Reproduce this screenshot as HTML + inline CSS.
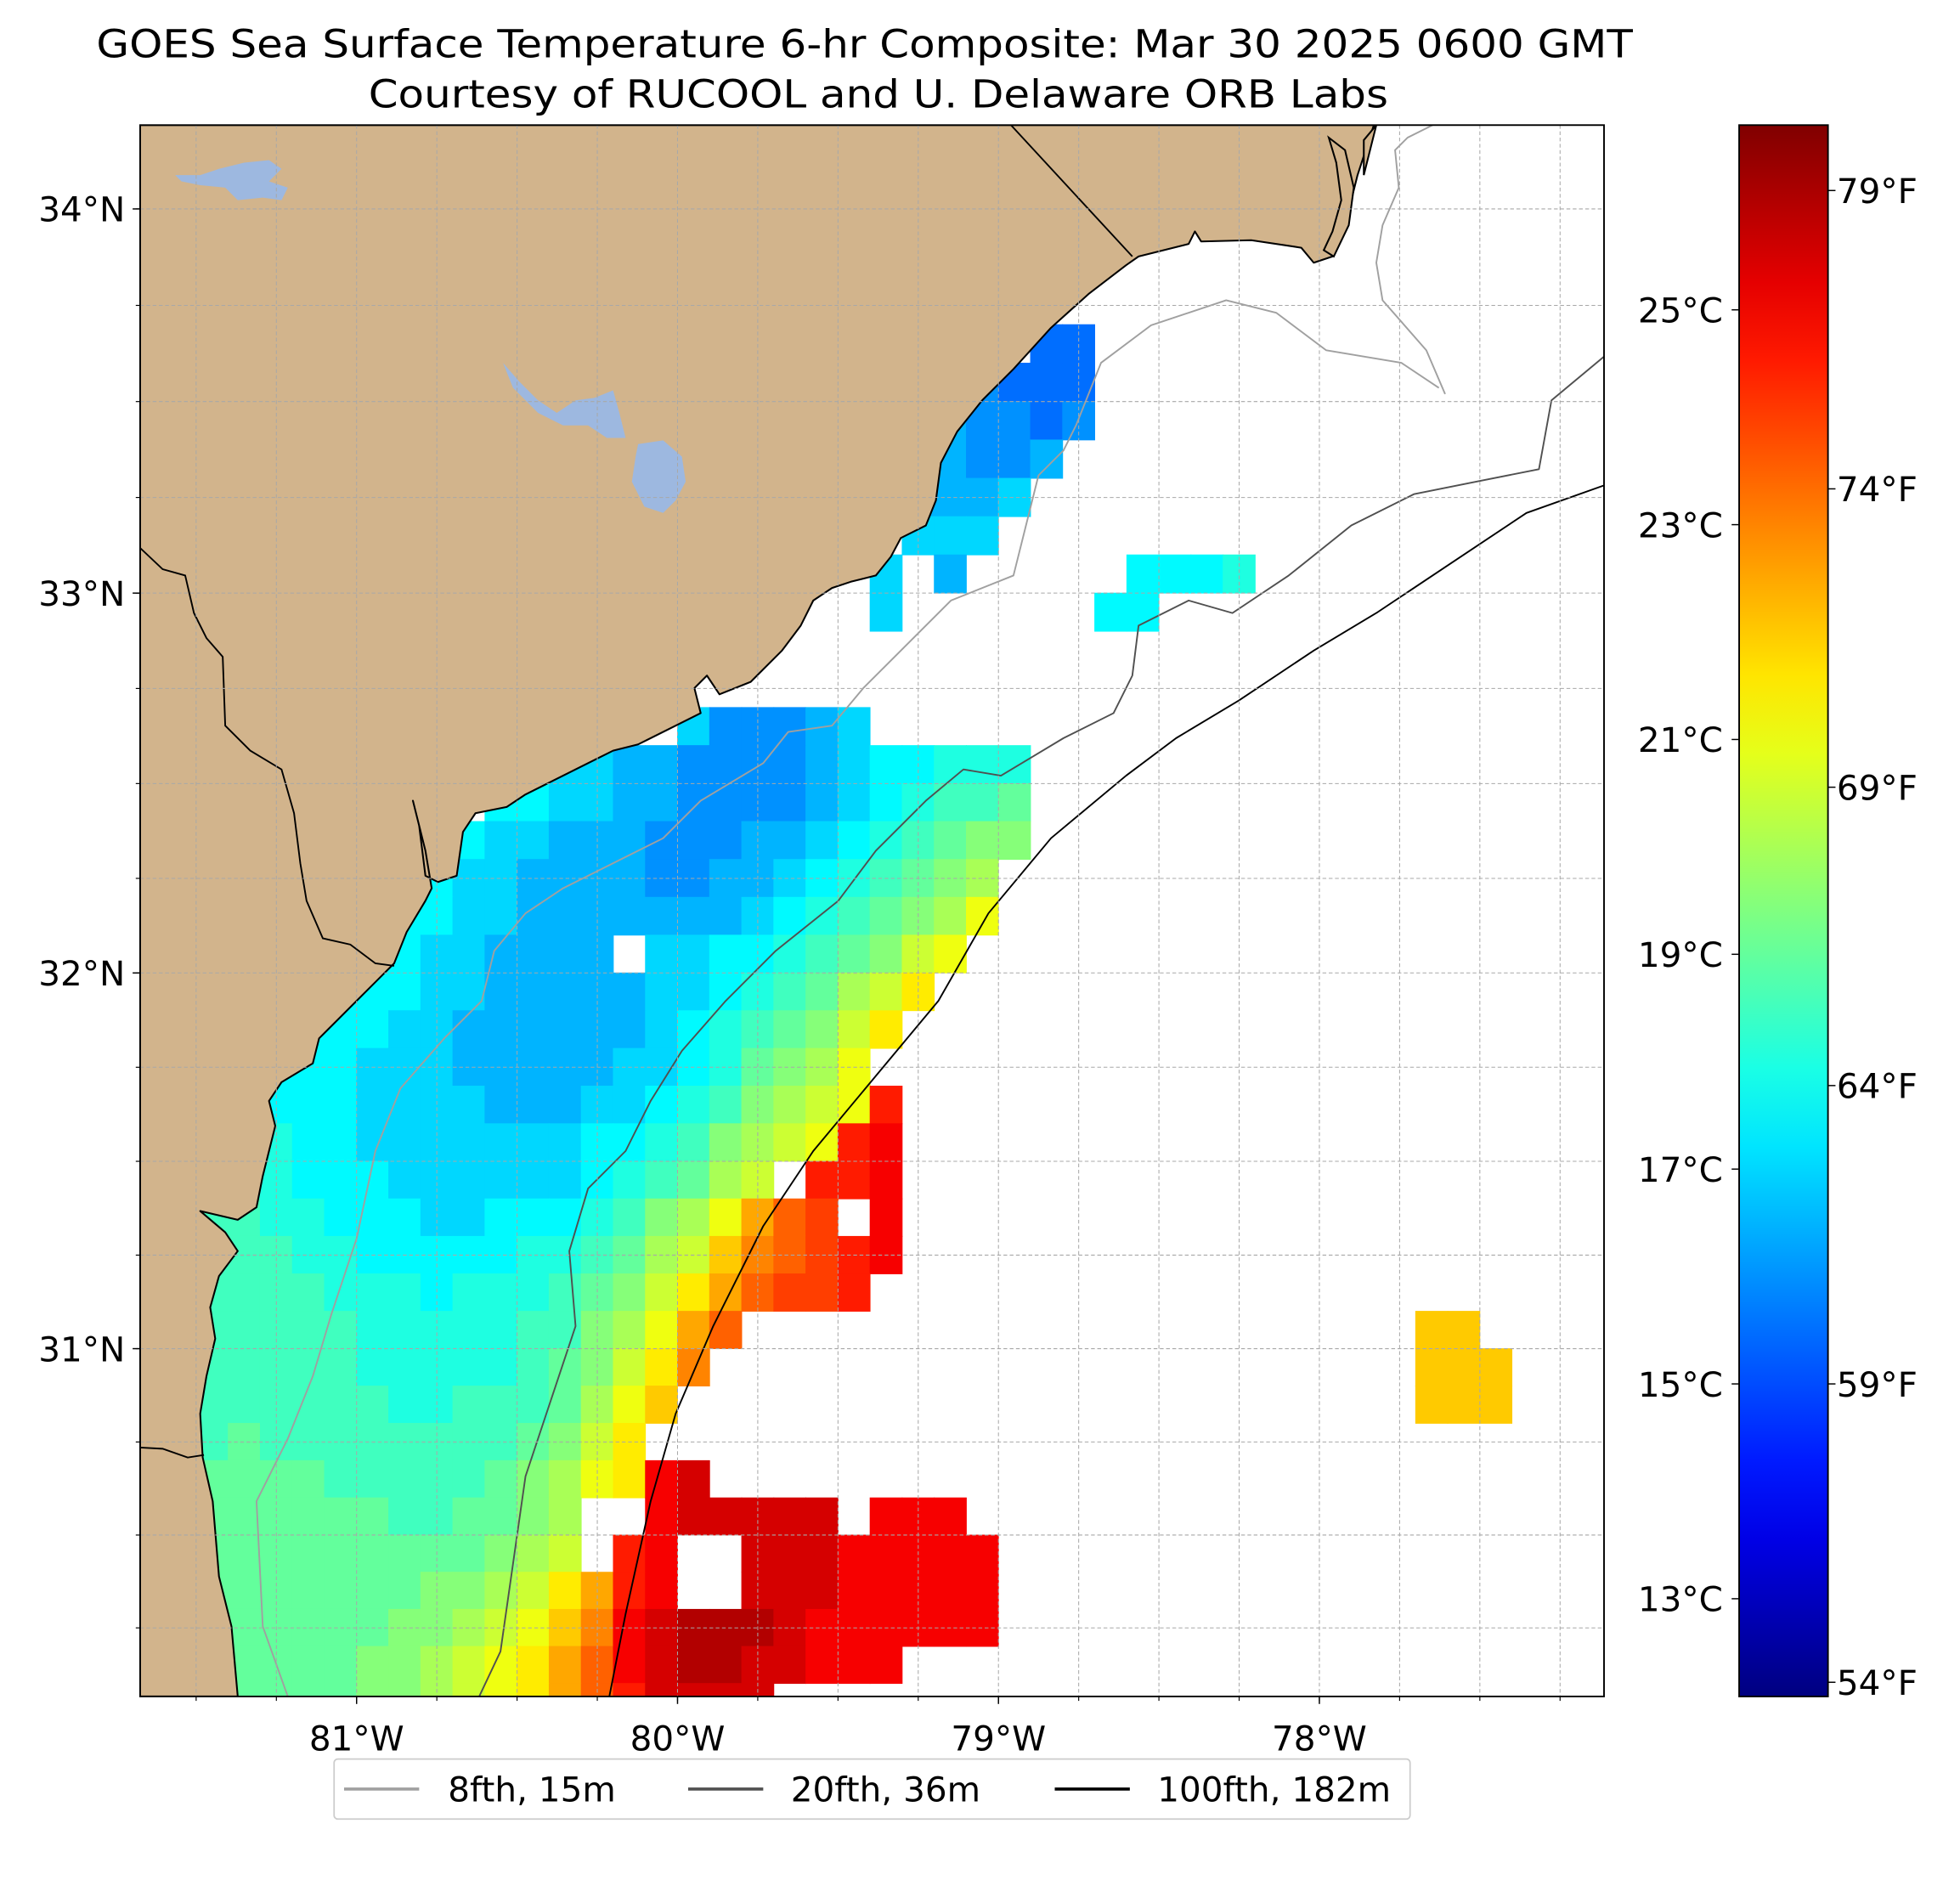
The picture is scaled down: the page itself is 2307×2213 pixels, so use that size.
<!DOCTYPE html>
<html><head><meta charset="utf-8"><style>
html,body{margin:0;padding:0;background:#fff}
svg{display:block}
text{font-family:"DejaVu Sans","Liberation Sans",sans-serif;fill:#000}
</style></head><body>
<svg id="fig" xmlns="http://www.w3.org/2000/svg" width="2307" height="2213" viewBox="0 0 1566.5 1502.7">
<defs>
<clipPath id="mapclip"><rect x="112" y="100" width="1170" height="1256"/></clipPath>
<linearGradient id="jetgrad" x1="0" y1="1" x2="0" y2="0"></linearGradient>
</defs>
<text x="691" y="46" text-anchor="middle" font-size="31" textLength="1228" lengthAdjust="spacingAndGlyphs">GOES Sea Surface Temperature 6-hr Composite: Mar 30 2025 0600 GMT</text>
<text x="702" y="86" text-anchor="middle" font-size="31" textLength="815" lengthAdjust="spacingAndGlyphs">Courtesy of RUCOOL and U. Delaware ORB Labs</text>
<rect x="112" y="100" width="1170" height="1256" fill="#fff"/>
<g id="map" clip-path="url(#mapclip)">
<g id="sst"></g>
<path fill="#d2b48c" stroke="#000" stroke-width="1.4" stroke-linejoin="round" d="M112,100 L1098,100 L1085,140 L1075,180 L1065,205 L1050,210 L1040,198 L1000,192 L960,193 L955,185 L950,195 L910,205 L900,212 L870,235 L840,262 L810,295 L785,320 L765,345 L752,370 L748,400 L740,420 L720,430 L712,445 L700,460 L680,465 L665,470 L650,480 L640,500 L625,520 L600,545 L575,555 L565,540 L555,550 L560,570 L540,580 L510,595 L490,600 L470,610 L440,625 L420,635 L405,645 L380,650 L370,665 L365,700 L350,705 L340,700 L335,660 L330,640 L340,680 L345,710 L340,720 L325,745 L315,770 L300,785 L285,800 L270,815 L255,830 L250,850 L225,865 L215,880 L220,900 L210,940 L205,965 L190,975 L160,968 L180,985 L190,1000 L175,1020 L168,1045 L172,1070 L165,1100 L160,1130 L162,1165 L170,1200 L175,1260 L185,1300 L190,1356 L112,1356 Z"/>
<path fill="#d2b48c" stroke="#000" stroke-width="1.4" d="M1062,110 L1068,130 L1072,160 L1065,185 L1058,200 L1066,205 L1078,180 L1082,150 L1075,120 Z M1090,112 L1100,100 L1090,140 Z"/>
<g fill="#9db8e0">
<path d="M402,290 L415,305 L430,320 L445,330 L460,320 L475,318 L490,312 L495,330 L500,350 L485,350 L470,340 L450,340 L430,330 L410,310 Z"/>
<path d="M510,355 L530,352 L545,365 L548,385 L540,400 L530,410 L515,405 L505,385 L508,365 Z"/>
<path d="M140,140 L160,140 L175,135 L195,130 L215,128 L225,135 L215,145 L230,150 L225,160 L210,158 L190,160 L180,150 L160,148 L145,145 Z"/>
</g>
<g fill="none" stroke="#000" stroke-width="1.3">
<path d="M808,100 L905,205"/>
<path d="M112,438 L130,455 L148,460 L155,490 L165,510 L178,525 L180,580 L200,600 L225,615 L235,650 L240,690 L245,720 L258,750 L280,755 L300,770 L315,772"/>
<path d="M112,1157 L130,1158 L150,1165 L163,1163"/>
</g>
<g fill="none" stroke-linejoin="round">
<path stroke="#a0a0a0" stroke-width="1.3" d="M230,1356 L210,1300 L205,1200 L230,1150 L250,1100 L265,1050 L285,990 L300,920 L320,870 L355,830 L385,800 L395,760 L420,730 L450,710 L490,690 L530,670 L560,640 L610,610 L630,585 L665,580 L690,550 L720,520 L760,480 L810,460 L820,420 L830,380 L850,360 L860,340 L880,290 L920,260 L980,240 L1020,250 L1060,280 L1120,290 L1150,310 M1145,100 L1125,110 L1115,120 L1118,150 L1105,180 L1100,210 L1105,240 L1140,280 L1155,315"/>
<path stroke="#505050" stroke-width="1.3" d="M383,1356 L400,1320 L410,1250 L420,1180 L440,1120 L460,1060 L455,1000 L470,950 L500,920 L520,880 L545,840 L580,800 L620,760 L670,720 L700,680 L740,640 L770,615 L800,620 L850,590 L890,570 L905,540 L910,500 L950,480 L985,490 L1030,460 L1080,420 L1130,395 L1180,385 L1230,375 L1240,320 L1282,285"/>
<path stroke="#000" stroke-width="1.3" d="M487,1356 L500,1290 L520,1200 L540,1130 L570,1060 L610,980 L650,920 L700,860 L750,800 L790,730 L840,670 L900,620 L940,590 L990,560 L1050,520 L1100,490 L1160,450 L1220,410 L1282,388"/>
</g>
<g id="grid" fill="none" stroke="#a8a8a8" stroke-width="0.7" stroke-dasharray="3,2"></g>
</g>
<rect x="112" y="100" width="1170" height="1256" fill="none" stroke="#000" stroke-width="1.3"/>
<g id="axes"></g>
<g id="cbar"></g>
<g>
<rect x="267" y="1406" width="860" height="48" rx="3" fill="#fff" stroke="#cccccc" stroke-width="1.2"/>
<line x1="275" y1="1430" x2="335" y2="1430" stroke="#a0a0a0" stroke-width="2.5"/>
<text x="358" y="1440" font-size="27.5">8fth, 15m</text>
<line x1="550" y1="1430" x2="610" y2="1430" stroke="#505050" stroke-width="2.5"/>
<text x="632" y="1440" font-size="27.5">20fth, 36m</text>
<line x1="843" y1="1430" x2="903" y2="1430" stroke="#000" stroke-width="2.5"/>
<text x="925" y="1440" font-size="27.5">100fth, 182m</text>
</g>
</svg>
<script>
const NS="http://www.w3.org/2000/svg";
// ---- data ----
const lonTicks=[-81,-80,-79,-78];
const latTicks=[31,32,33,34];
const cTicks=[13,15,17,19,21,23,25];
const fTicks=[54,59,64,69,74,79];
const tempMin=12.09, tempMax=26.72;
const tempCodes="0123456789abcdefghijklmnopqrstuv"; // index i -> 12 + 0.5*i degC
const gridLon0=-81.7, gridLat0=34.2, gridStep=0.1;
const sstRows=[5,6,7,8,9,10,11,12,15,16,17,18,19,20,21,22,23,24,25,26,27,28,29,30,31,31,32,32,33,33,34,35,36,37,38,39,40,41];
const sstStarts=[28,26,25,24,24,24,23,23,17,13,11,8,8,7,7,6,5,4,4,3,3,2,2,2,1,40,1,40,1,40,1,1,1,1,1,1,1,1];
const sstCodes=["77","8777","98878","99889","999a","aaa","a.9.....bbbc","a......bb","a8889a","aa9988889abbccc","bbaa9988889abcdde","bbbaa99988899abcdeff","bbaa99998899abcdefg","bbbaa9999999abcdefgi","bbaa9999.aabbcdefhi","bbbaa99999aabcdeghj","bbbaa999999abcdefhj","bbbaaa99999aabcefgi","bbbaaaa999aabcdfghip","ccbbaaaaaaabbcdfghipq","ccbbbaaaaaabcdegh.ppq","ddccbbbaabbbcdfgilno.q","dddccbbbbbccdeghkmnopq","ddddcccbcccdefhjlnoop","ddddddcccccddfgiln","kk","ddddddcccccdefhjm","kkk","dddddddccdddegik","kkk","ddeddddddddefhj","eeeeedddddefgijqr","eeeeeeeddeefg..qrrrrr.qqq","eeeeeeeeeefgh.pq..rrrqqqqq","eeeeeeeeffghjlpq..rrrqqqqq","eeeeeeeffghikmqrsssrqqqqqq","eeeeeeffghijlnqrssrrqqq","eeeeeeffghijlnprrrr"];
// ---- scales ----
function xLon(lon){return 285+(lon+81)*256.5;}
function merc(lat){return Math.log(Math.tan(Math.PI/4+lat*Math.PI/360));}
const mK=911/(merc(34)-merc(31));
function yLat(lat){return 1078-(merc(lat)-merc(31))*mK;}
function yBar(c){return 1356-(c-tempMin)/(tempMax-tempMin)*1256;}
function jet(f){f=Math.max(0,Math.min(1,f));const cl=v=>Math.round(255*Math.max(0,Math.min(1,v)));
 return "rgb("+cl(1.5-Math.abs(4*f-3))+","+cl(1.5-Math.abs(4*f-2))+","+cl(1.5-Math.abs(4*f-1))+")";}
function tempColor(t){return jet((t-tempMin)/(tempMax-tempMin));}
function mk(tag,attrs,parent){const e=document.createElementNS(NS,tag);for(const k in attrs)e.setAttribute(k,attrs[k]);parent.appendChild(e);return e;}
// ---- sst cells ----
const sst=document.getElementById('sst');
for(let s=0;s<sstRows.length;s++){
 const row=sstRows[s];const codes=sstCodes[s];
 for(let k=0;k<codes.length;k++){
  const ch=codes[k];if(ch==='.')continue;
  const t=12+0.5*tempCodes.indexOf(ch);
  const col=sstStarts[s]+k;
  const lonL=gridLon0+col*gridStep, latT=gridLat0-row*gridStep;
  const x0=xLon(lonL),x1=xLon(lonL+gridStep),y0=yLat(latT),y1=yLat(latT-gridStep);
  const r=mk('rect',{x:x0-0.3,y:y0-0.3,width:x1-x0+0.6,height:y1-y0+0.6,fill:tempColor(t)},sst);
  
  
 }
}
// ---- grid & ticks ----
const grid=document.getElementById('grid'),axes=document.getElementById('axes');
for(let lon=-81.75;lon<=-77.1;lon+=0.25){
 const x=xLon(lon);
 const g=mk('line',{x1:x,y1:100,x2:x,y2:1356},grid);
 
 
 if(x>112&&x<1282){const tk=mk('line',{x1:x,y1:1356,x2:x,y2:1359.5,stroke:'#000','stroke-width':0.8},axes);
  
  }
}
for(let lat=30.0;lat<=34.25;lat+=0.25){
 const y=yLat(lat);
 const g=mk('line',{x1:112,y1:y,x2:1282,y2:y},grid);
 
 
 if(y>100&&y<1356){const tk=mk('line',{x1:108.5,y1:y,x2:112,y2:y,stroke:'#000','stroke-width':0.8},axes);
  
  }
}
lonTicks.forEach(lon=>{const x=xLon(lon);
 const tk=mk('line',{x1:x,y1:1356,x2:x,y2:1362,stroke:'#000','stroke-width':1},axes);
 
 
 const t=mk('text',{x:x,y:1399,'font-size':27.5,'text-anchor':'middle'},axes);t.textContent=Math.abs(lon)+"°W";
 
 });
latTicks.forEach(lat=>{const y=yLat(lat);
 const tk=mk('line',{x1:106,y1:y,x2:112,y2:y,stroke:'#000','stroke-width':1},axes);
 
 
 const t=mk('text',{x:100,y:y+10,'font-size':27.5,'text-anchor':'end'},axes);t.textContent=lat+"°N";
 
 });
// ---- colorbar ----
const grad=document.getElementById('jetgrad');
for(let i=0;i<=20;i++){mk('stop',{offset:(i/20),'stop-color':jet(i/20)},grad);}
const cb=document.getElementById('cbar');
const bar=mk('rect',{x:1390,y:100,width:71,height:1256,fill:'url(#jetgrad)',stroke:'#000','stroke-width':1.3},cb);


cTicks.forEach(c=>{const y=yBar(c);
 const tk=mk('line',{x1:1384,y1:y,x2:1390,y2:y,stroke:'#000','stroke-width':1},cb);
 
 
 const t=mk('text',{x:1377,y:y+10,'font-size':27.5,'text-anchor':'end'},cb);t.textContent=c+"°C";
 
 });
fTicks.forEach(f=>{const y=yBar((f-32)*5/9);
 const tk=mk('line',{x1:1461,y1:y,x2:1467,y2:y,stroke:'#000','stroke-width':1},cb);
 
 
 const t=mk('text',{x:1468,y:y+10,'font-size':27.5},cb);t.textContent=f+"°F";
 
 });
</script>
</body></html>
